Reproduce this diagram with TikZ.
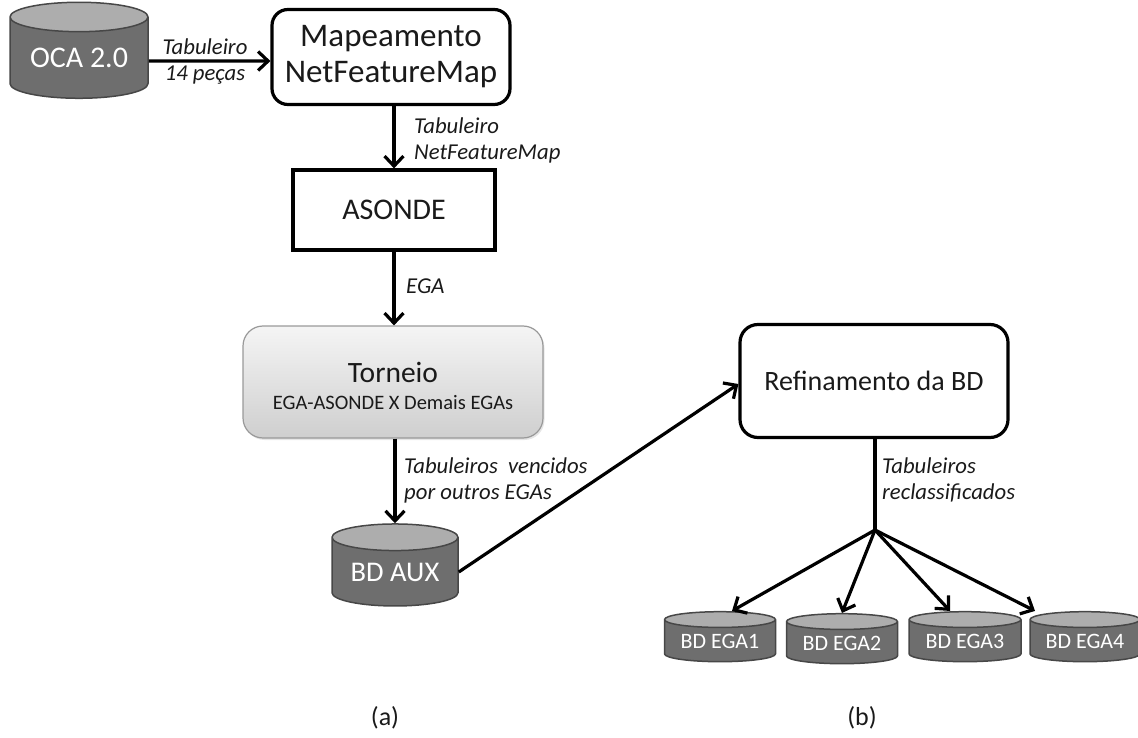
\documentclass[tikz,border=0pt]{standalone}
\usepackage{fontspec}
\setmainfont{Carlito}
\usetikzlibrary{shapes.geometric,arrows.meta,shadows}
\definecolor{dbbody}{HTML}{6E6E6E}
\definecolor{dbtop}{HTML}{ADADAD}
\definecolor{dbline}{HTML}{474747}
\definecolor{txt}{HTML}{1A1A1A}
\begin{document}
\begin{tikzpicture}[x=1pt,y=-1pt,
  box/.style={draw=black, line width=3.2pt, fill=white, align=center, text=txt, inner sep=0pt},
  flow/.style={line width=3.2pt, -{Straight Barb[length=10pt,width=19pt,line width=3.2pt]}},
  plain/.style={line width=3.2pt},
  lbl/.style={font=\fontsize{22.7}{26}\selectfont\itshape, align=left, inner sep=0pt, text=txt},
  db/.style={cylinder, shape border rotate=90, draw=dbline, line width=1.5pt,
    cylinder uses custom fill, cylinder body fill=dbbody, cylinder end fill=dbtop,
    text=white, inner sep=0pt},
  partcap/.style={font=\fontsize{26}{30}\selectfont, text=txt, inner sep=0pt}
]
\useasboundingbox (0,0) rectangle (1138,738);

% storage and processing nodes of part (a)
\node[db, aspect=0.3, minimum width=138pt, minimum height=96pt,
      font=\fontsize{30}{32}\selectfont] (oca) at (79,58) {\raisebox{-13pt}{OCA 2.0}};
\node[box, rounded corners=16pt, minimum width=238pt, minimum height=95pt,
      font=\fontsize{33}{36}\selectfont] (map) at (391,57) {Mapeamento\\NetFeatureMap};
\node[box, minimum width=202pt, minimum height=80pt,
      font=\fontsize{30}{32}\selectfont] (asonde) at (394,210) {ASONDE};
\node[draw=black!40, line width=1.2pt, rounded corners=20pt, top color=black!4, bottom color=black!19,
      minimum width=300pt, minimum height=112pt, inner sep=0pt,
      drop shadow={opacity=0.2, shadow xshift=1.5pt, shadow yshift=-2pt},
      label={[name=ttext, align=center, text=txt, inner sep=0pt, yshift=-3.5pt,
              font=\fontsize{20.5}{27}\selectfont]center:{\fontsize{29.5}{30}\selectfont Torneio}\\EGA-ASONDE X Demais EGAs}]
      (torneio) at (393,382) {};
\node[db, aspect=0.3, minimum width=126pt, minimum height=82pt,
      font=\fontsize{28.5}{30}\selectfont] (aux) at (395,572) {\raisebox{-8pt}{BD AUX}};

% part (b)
\node[box, rounded corners=18pt, minimum width=268pt, minimum height=113pt,
      font=\fontsize{28}{32}\selectfont] (refi) at (874,381) {Refinamento da BD};
\coordinate (j) at (875,530);
\node[db, aspect=0.2, minimum width=111pt, minimum height=50pt,
      font=\fontsize{22}{24}\selectfont] (e1) at (720,641) {\raisebox{-5pt}{BD EGA1}};
\node[db, aspect=0.2, minimum width=111pt, minimum height=50pt,
      font=\fontsize{22}{24}\selectfont] (e2) at (842,643) {\raisebox{-5pt}{BD EGA2}};
\node[db, aspect=0.2, minimum width=112pt, minimum height=50pt,
      font=\fontsize{22}{24}\selectfont] (e3) at (965,641) {\raisebox{-5pt}{BD EGA3}};
\node[db, aspect=0.2, minimum width=110pt, minimum height=50pt,
      font=\fontsize{22}{24}\selectfont] (e4) at (1085,641) {\raisebox{-5pt}{BD EGA4}};

% connectors
\draw[flow] ([yshift=-3pt]oca.east) -- ([yshift=-4pt]map.west);
\draw[flow] (map.south -| asonde.north) -- (asonde.north);
\draw[flow] (asonde.south) -- (asonde.south |- torneio.north);
\draw[flow] (torneio.south -| aux.north) -- (aux.north);
\draw[flow] (aux.east) -- ([yshift=-3pt]refi.west);
\draw[plain] (refi.south -| j) -- (j);
\draw[flow] (j) -- ([xshift=12pt]e1.north);
\draw[flow] (j) -- (e2.north);
\draw[flow] (j) -- ([xshift=-15pt]e3.north);
\draw[flow] (j) -- ([xshift=-50pt]e4.north);

% connector labels
\node[lbl, align=center] (l1) at (205,62) {Tabuleiro\\14 peças};
\node[lbl, anchor=west] (l2) at (414,140) {Tabuleiro\\NetFeatureMap};
\node[lbl, anchor=west] (l3) at (406,286) {EGA};
\node[lbl, anchor=west] (l4) at (404,480) {Tabuleiros\ \ vencidos\\por outros EGAs};
\node[lbl, anchor=west] (l5) at (882,480) {Tabuleiros\\reclassificados};

% part captions
\node[partcap] (ca) at (385,718) {(a)};
\node[partcap] (cb) at (862,718) {(b)};
\end{tikzpicture}
\end{document}
